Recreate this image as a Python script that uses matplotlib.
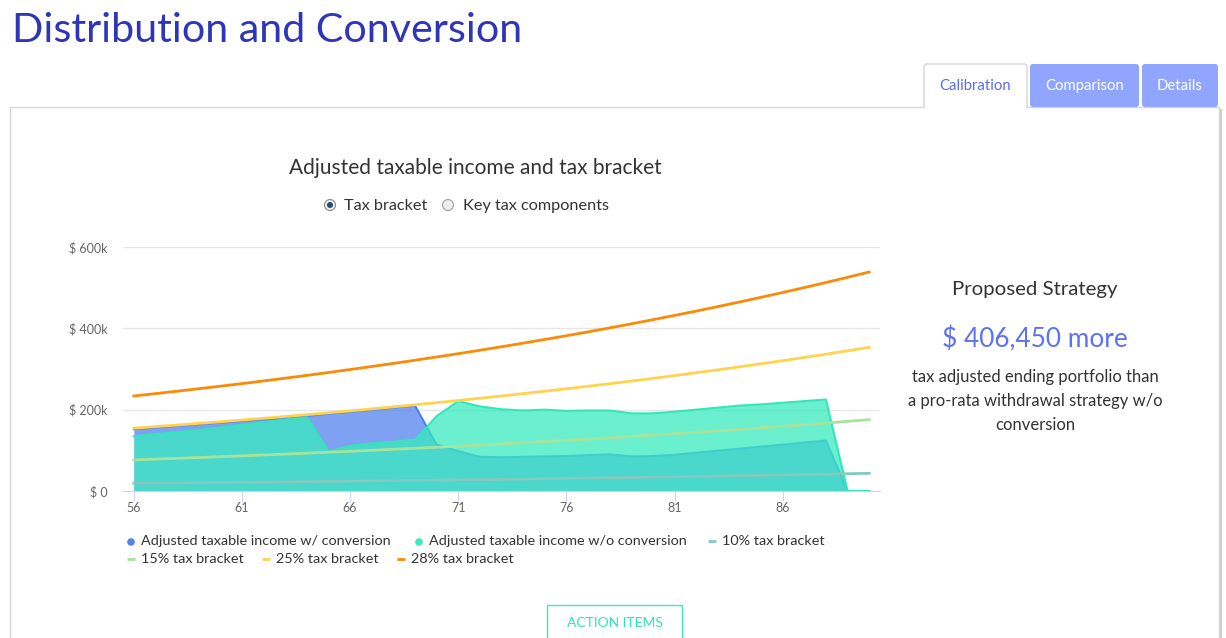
import matplotlib.pyplot as plt
from matplotlib.patches import Rectangle, FancyBboxPatch, Circle

plt.rcParams["font.family"] = ["Lato", "DejaVu Sans"]

W, H = 1226, 638

# ages on the x axis
ages = list(range(56, 91))

# values in $k
income_w_conversion = [152, 156, 160, 164, 168, 172, 176, 181, 185, 190,
                       195, 200, 205, 210, 114, 98, 84, 83, 84, 85,
                       86, 88, 90, 85, 86, 89, 94, 99, 104, 109,
                       114, 119, 124, 0, 0]
income_wo_conversion = [134.5, 140, 145, 150, 156, 163, 169, 175, 181, 97,
                        111, 117, 121, 126, 184, 221, 208, 201, 198, 200,
                        197, 198, 198, 191, 191, 195, 200, 205, 210, 213,
                        217, 221, 225, 0, 0]
bracket_10 = [19.0, 19.5, 19.9, 20.4, 20.9, 21.4, 22.0, 22.5, 23.1, 23.6,
              24.2, 24.8, 25.4, 26.1, 26.7, 27.4, 28.0, 28.7, 29.4, 30.2,
              30.9, 31.7, 32.5, 33.3, 34.1, 34.9, 35.8, 36.7, 37.6, 38.5,
              39.5, 40.4, 41.4, 42.5, 43.5]
bracket_15 = [76.5, 78.4, 80.3, 82.3, 84.3, 86.4, 88.6, 90.7, 93.0, 95.3,
              97.6, 100.0, 102.5, 105.1, 107.6, 110.3, 113.0, 115.8, 118.7, 121.6,
              124.6, 127.7, 130.9, 134.1, 137.4, 140.8, 144.3, 147.9, 151.5, 155.2,
              159.1, 163.0, 167.0, 171.2, 175.4]
bracket_25 = [154.5, 158.3, 162.2, 166.2, 170.3, 174.5, 178.8, 183.2, 187.7, 192.3,
              197.0, 201.9, 206.9, 212.0, 217.2, 222.5, 228.0, 233.6, 239.4, 245.3,
              251.3, 257.5, 263.8, 270.3, 277.0, 283.8, 290.8, 297.9, 305.3, 312.8,
              320.5, 328.4, 336.4, 344.7, 353.2]
bracket_28 = [233.6, 239.4, 245.4, 251.5, 257.7, 264.1, 270.7, 277.4, 284.3, 291.4,
              298.7, 306.1, 313.7, 321.5, 329.5, 337.7, 346.1, 354.7, 363.5, 372.6,
              381.8, 391.3, 401.0, 411.0, 421.2, 431.7, 442.4, 453.4, 464.7, 476.3,
              488.1, 500.2, 512.7, 525.4, 538.5]

x_ticks = [56, 61, 66, 71, 76, 81, 86]
y_ticks = [0, 200, 400, 600]
y_tick_labels = ["$ 0", "$ 200k", "$ 400k", "$ 600k"]

series_labels = ["Adjusted taxable income w/ conversion",
                 "Adjusted taxable income w/o conversion",
                 "10% tax bracket", "15% tax bracket",
                 "25% tax bracket", "28% tax bracket"]
tab_names = ["Calibration", "Comparison", "Details"]

BLUE = "#5383ed"
GREEN = "#38ebbf"
C10 = "#86c9c0"
C15 = "#a8e39c"
C25 = "#ffd24f"
C28 = "#fb8a06"

fig = plt.figure(figsize=(W / 100, H / 100), dpi=100)

# page layer in pixel coordinates
bg = fig.add_axes([0, 0, 1, 1])
bg.set_xlim(0, W)
bg.set_ylim(H, 0)
bg.axis("off")

bg.text(12, 31, "Distribution and Conversion", fontsize=29.7, color="#2e35b8",
        va="center", ha="left")

# panel with a soft shadow
bg.add_patch(Rectangle((12, 109), 1210, 540, facecolor="#cfcfcf", edgecolor="none"))
bg.add_patch(Rectangle((10, 107), 1209, 540, facecolor="white", edgecolor="#d6d6d6", lw=1))

# tabs
tab_boxes = [(924, 1027), (1030, 1139), (1142, 1218)]
for i, (name, (x0, x1)) in enumerate(zip(tab_names, tab_boxes)):
    if i == 0:
        bg.add_patch(FancyBboxPatch((x0, 64), x1 - x0, 44,
                                    boxstyle="round,pad=0,rounding_size=3",
                                    facecolor="white", edgecolor="#d6d6d6", lw=1))
        bg.add_patch(Rectangle((x0 + 1, 104), x1 - x0 - 2, 5,
                               facecolor="white", edgecolor="none"))
        col = "#5a6cf0"
    else:
        bg.add_patch(FancyBboxPatch((x0, 64), x1 - x0, 43,
                                    boxstyle="round,pad=0,rounding_size=3",
                                    facecolor="#8fa5fe", edgecolor="none"))
        col = "white"
    bg.text((x0 + x1) / 2, 86, name, fontsize=10.7, color=col, ha="center", va="center")

bg.text(475, 168, "Adjusted taxable income and tax bracket", fontsize=15,
        color="#333333", ha="center", va="center")

# radio buttons
bg.add_patch(Circle((330, 205), 5.5, facecolor="#eeeeee", edgecolor="#8a8a8a", lw=0.8))
bg.add_patch(Circle((330, 205), 3, facecolor="#1d4f7a", edgecolor="none"))
bg.text(344, 206, "Tax bracket", fontsize=11.7, color="#333333", va="center")
bg.add_patch(Circle((448, 205), 5.5, facecolor="#eeeeee", edgecolor="#a0a0a0", lw=0.8))
bg.text(463, 206, "Key tax components", fontsize=11.7, color="#333333", va="center")

# right side summary
bg.text(1035, 289, "Proposed Strategy", fontsize=14.7, color="#333333",
        ha="center", va="center")
bg.text(1035, 339, "$ 406,450 more", fontsize=18.9, color="#5c72f2",
        ha="center", va="center")
for yy, line in zip([377, 401, 425], ["tax adjusted ending portfolio than",
                                      "a pro-rata withdrawal strategy w/o",
                                      "conversion"]):
    bg.text(1035, yy, line, fontsize=12, color="#333333", ha="center", va="center")

# action button
bg.add_patch(Rectangle((547, 605), 135, 40, facecolor="white", edgecolor="#3de8c0", lw=1))
bg.text(614.5, 623, "ACTION ITEMS", fontsize=10, color="#2ee6b8",
        ha="center", va="center")

# legend
legend_items = [
    (131, 541, "dot", BLUE, series_labels[0]),
    (419, 541, "dot", GREEN, series_labels[1]),
    (712, 541, "dash", C10, series_labels[2]),
    (131, 559, "dash", C15, series_labels[3]),
    (266, 559, "dash", C25, series_labels[4]),
    (401, 559, "dash", C28, series_labels[5]),
]
for x, y, kind, col, lab in legend_items:
    if kind == "dot":
        bg.add_patch(Circle((x, y + 1), 3.8, facecolor=col, edgecolor="none"))
    else:
        bg.plot([x - 4, x + 4], [y, y], color=col, lw=2, solid_capstyle="butt")
    bg.text(x + 10, y, lab, fontsize=10.4, color="#333333", va="center", ha="left")

# chart
ax = fig.add_axes([123 / W, (H - 491) / H, (880 - 123) / W, (491 - 247) / H])
ax.set_facecolor("none")

k = lambda s: [v * 1000 for v in s]

ax.fill_between(ages, k(income_w_conversion), color=BLUE, alpha=0.75, lw=0, zorder=2)
ax.plot(ages, k(income_w_conversion), color="#4c7ef0", lw=1.5, zorder=2)
ax.fill_between(ages, k(income_wo_conversion), color=GREEN, alpha=0.75, lw=0, zorder=3)
ax.plot(ages, k(income_wo_conversion), color="#33e6ba", lw=1.5, zorder=3)

ax.plot(ages, k(bracket_10), color=C10, lw=2, zorder=4)
ax.plot(ages, k(bracket_15), color=C15, lw=2, zorder=4)
ax.plot(ages, k(bracket_25), color=C25, lw=2, zorder=4)
ax.plot(ages, k(bracket_28), color=C28, lw=2, zorder=4)

ax.set_xlim(55.5, 90.5)
ax.set_ylim(0, 600000)
ax.set_xticks(x_ticks)
ax.set_yticks(k(y_ticks))
ax.set_yticklabels(y_tick_labels)
ax.yaxis.grid(True, color="#e6e6e6", lw=1)
ax.set_axisbelow(True)
for side in ["top", "right", "left"]:
    ax.spines[side].set_visible(False)
ax.spines["bottom"].set_color("#ccd6eb")
ax.spines["bottom"].set_zorder(5)
ax.tick_params(axis="y", length=0, pad=11, labelcolor="#666666", labelsize=9)
ax.tick_params(axis="x", length=7, color="#ccd6eb", pad=1, labelcolor="#666666",
               labelsize=9)

fig.savefig("out.png", dpi=100)
